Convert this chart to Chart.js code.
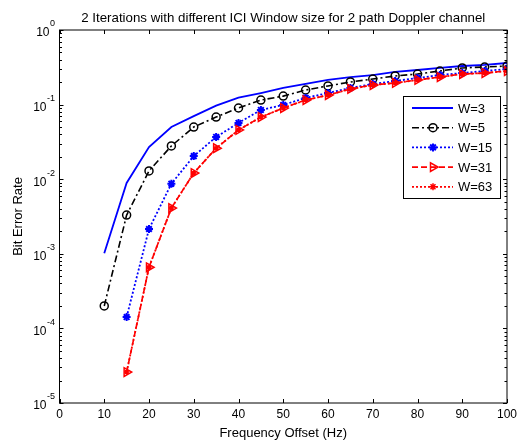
<!DOCTYPE html>
<html>
<head>
<meta charset="utf-8">
<script src="https://cdn.jsdelivr.net/npm/chart.js@4/dist/chart.umd.min.js"></script>
<style>
  body { margin: 0; background: #fff; }
</style>
</head>
<body>
<canvas id="myChart" width="517" height="440"></canvas>
<script>
// Fréquences (Hz) et BER
const freq = [10, 15, 20, 25, 30, 35, 40, 45, 50, 55, 60, 65, 70, 75, 80, 85, 90, 95, 100];
const berW3 = [1.02e-3, 8.9e-3, 0.027, 0.050, 0.070, 0.097, 0.124, 0.143, 0.167, 0.189, 0.214, 0.234, 0.249, 0.274, 0.291, 0.31, 0.329, 0.34, 0.361];
const berW5 = [2.0e-4, 3.3e-3, 0.0129, 0.0279, 0.050, 0.068, 0.090, 0.115, 0.130, 0.157, 0.178, 0.201, 0.22, 0.242, 0.257, 0.282, 0.31, 0.319, 0.329];
const berW15 = [null, 1.42e-4, 2.15e-3, 8.7e-3, 0.0204, 0.0368, 0.0567, 0.0847, 0.099, 0.123, 0.143, 0.167, 0.189, 0.207, 0.227, 0.249, 0.265, 0.282, 0.30];
const berW31 = [null, 2.6e-5, 6.6e-4, 4.1e-3, 0.0121, 0.026, 0.0457, 0.068, 0.090, 0.115, 0.134, 0.162, 0.183, 0.195, 0.214, 0.234, 0.257, 0.265, 0.282];
const berW63 = [null, 2.6e-5, 6.6e-4, 4.1e-3, 0.0121, 0.026, 0.0457, 0.068, 0.090, 0.115, 0.134, 0.162, 0.183, 0.195, 0.214, 0.234, 0.257, 0.265, 0.282];
const xTicks = [0, 10, 20, 30, 40, 50, 60, 70, 80, 90, 100];
const yDecades = [0, -1, -2, -3, -4, -5];

const FONT = "Liberation Sans, Arial, sans-serif";

function pts(ys) {
    return freq.map((f, i) => ({ x: f, y: ys[i] }));
}

// Cadre, graduations internes et textes façon MATLAB
const matlabAxes = {
    id: "matlabAxes",
    afterDraw(chart) {
        const ctx = chart.ctx;
        const a = chart.chartArea;
        const xs = chart.scales.x;
        const ys = chart.scales.y;
        ctx.save();
        ctx.strokeStyle = "#000";
        ctx.lineWidth = 1;
        ctx.strokeRect(a.left, a.top, a.right - a.left, a.bottom - a.top);

        ctx.beginPath();
        xTicks.forEach(t => {
            const px = Math.round(xs.getPixelForValue(t)) + 0.5;
            ctx.moveTo(px, a.bottom); ctx.lineTo(px, a.bottom - 4);
            ctx.moveTo(px, a.top); ctx.lineTo(px, a.top + 4);
        });
        yDecades.forEach(d => {
            for (let m = 1; m <= 9; m++) {
                const v = m * Math.pow(10, d);
                if (v > 1 || v < 1e-5) continue;
                const py = Math.round(ys.getPixelForValue(v)) + 0.5;
                const len = m === 1 ? 4 : 2.5;
                ctx.moveTo(a.left, py); ctx.lineTo(a.left + len, py);
                ctx.moveTo(a.right, py); ctx.lineTo(a.right - len, py);
            }
        });
        ctx.stroke();

        ctx.fillStyle = "#000";

        // étiquettes de l'axe x
        ctx.font = "12px " + FONT;
        ctx.textAlign = "center";
        ctx.textBaseline = "middle";
        xTicks.forEach(t => {
            ctx.fillText(String(t), xs.getPixelForValue(t), a.bottom + 12);
        });

        // étiquettes 10^n
        yDecades.forEach(d => {
            const py = ys.getPixelForValue(Math.pow(10, d));
            ctx.textAlign = "left";
            const exp = String(d);
            ctx.font = "9px " + FONT;
            const we = ctx.measureText(exp).width;
            ctx.font = "12px " + FONT;
            const wb = ctx.measureText("10").width;
            const x0 = a.left - 5 - we - wb;
            ctx.fillText("10", x0, py + 3);
            ctx.font = "9px " + FONT;
            ctx.fillText(exp, x0 + wb + 0.5, py - 6);
        });

        ctx.textAlign = "center";
        ctx.font = "13.3px " + FONT;
        ctx.fillText("2 Iterations with different ICI Window size for 2 path Doppler channel", (a.left + a.right) / 2, 18);
        ctx.font = "13px " + FONT;
        ctx.fillText("Frequency Offset (Hz)", (a.left + a.right) / 2, 433);
        ctx.translate(18, (a.top + a.bottom) / 2);
        ctx.rotate(-Math.PI / 2);
        ctx.fillText("Bit Error Rate", 0, 0);
        ctx.restore();

        drawLegend(chart);
    }
};

function drawMarker(ctx, style, x, y, r, rot) {
    ctx.beginPath();
    if (style === "circle") {
        ctx.arc(x, y, r, 0, Math.PI * 2);
    } else if (style === "star") {
        for (let k = 0; k < 4; k++) {
            const ang = k * Math.PI / 4;
            ctx.moveTo(x - r * Math.cos(ang), y - r * Math.sin(ang));
            ctx.lineTo(x + r * Math.cos(ang), y + r * Math.sin(ang));
        }
    } else if (style === "triangle") {
        const base = (rot || 0) * Math.PI / 180 - Math.PI / 2;
        for (let k = 0; k < 3; k++) {
            const ang = base + k * 2 * Math.PI / 3;
            const px = x + r * Math.cos(ang), py = y + r * Math.sin(ang);
            if (k === 0) ctx.moveTo(px, py); else ctx.lineTo(px, py);
        }
        ctx.closePath();
    }
    ctx.stroke();
}

function drawLegend(chart) {
    const ctx = chart.ctx;
    const bx = 403, by = 96, bw = 97, bh = 102;
    ctx.save();
    ctx.fillStyle = "#fff";
    ctx.fillRect(bx, by, bw, bh);
    ctx.strokeStyle = "#000";
    ctx.lineWidth = 1;
    ctx.strokeRect(bx + 0.5, by + 0.5, bw, bh);
    chart.data.datasets.forEach((ds, i) => {
        const y = by + 12 + i * 19.7;
        ctx.strokeStyle = ds.borderColor;
        ctx.lineWidth = ds.borderWidth;
        ctx.setLineDash(ds.borderDash || []);
        ctx.beginPath();
        ctx.moveTo(bx + 9, y); ctx.lineTo(bx + 50, y);
        ctx.stroke();
        ctx.setLineDash([]);
        if (ds.pointRadius > 0) {
            ctx.lineWidth = ds.pointBorderWidth;
            const r = ds.label === "W=63" ? 3.5 : ds.pointRadius;
            drawMarker(ctx, ds.pointStyle, bx + 30, y, r, ds.pointRotation);
        }
        ctx.fillStyle = "#000";
        ctx.font = "13px " + FONT;
        ctx.textAlign = "left";
        ctx.textBaseline = "middle";
        ctx.fillText(ds.label, bx + 55, y + 1);
    });
    ctx.restore();
}

const ctx = document.getElementById("myChart").getContext("2d");

new Chart(ctx, {
    type: "line",
    data: {
        datasets: [
            {
                label: "W=3", data: pts(berW3), order: 5,
                borderColor: "#0000FF", borderWidth: 1.8, borderDash: [],
                pointRadius: 0, pointStyle: "circle", pointBorderWidth: 1
            },
            {
                label: "W=5", data: pts(berW5), order: 4,
                borderColor: "#000000", borderWidth: 1.6, borderDash: [7, 3, 2, 3],
                pointStyle: "circle", pointRadius: 4, pointBorderWidth: 1.5,
                pointBorderColor: "#000", pointBackgroundColor: "rgba(0,0,0,0)"
            },
            {
                label: "W=15", data: pts(berW15), order: 3,
                borderColor: "#0000FF", borderWidth: 1.8, borderDash: [2, 2],
                pointStyle: "star", pointRadius: 4, pointBorderWidth: 2,
                pointBorderColor: "#0000FF", pointBackgroundColor: "#0000FF"
            },
            {
                label: "W=31", data: pts(berW31), order: 2,
                borderColor: "#FF0000", borderWidth: 1.6, borderDash: [6, 3],
                pointStyle: "triangle", pointRotation: 90, pointRadius: 5, pointBorderWidth: 1.5,
                pointBorderColor: "#FF0000", pointBackgroundColor: "rgba(0,0,0,0)"
            },
            {
                label: "W=63", data: pts(berW63), order: 1,
                borderColor: "#FF0000", borderWidth: 1.8, borderDash: [2, 2],
                pointStyle: "star", pointRadius: 2.5, pointBorderWidth: 1.5,
                pointBorderColor: "#FF0000", pointBackgroundColor: "#FF0000"
            }
        ]
    },
    options: {
        responsive: false,
        animation: false,
        devicePixelRatio: 1,
        spanGaps: false,
        layout: { padding: { top: 30, right: 10, left: 0, bottom: 0 } },
        elements: { line: { tension: 0, fill: false } },
        plugins: {
            legend: { display: false },
            title: { display: false },
            tooltip: { enabled: false }
        },
        scales: {
            x: {
                type: "linear",
                min: 0, max: 100,
                grid: { display: false, drawTicks: false },
                border: { display: false },
                afterFit: s => { s.height = 37; },
                ticks: { display: false }
            },
            y: {
                type: "logarithmic",
                min: 1e-5, max: 1,
                grid: { display: false, drawTicks: false },
                border: { display: false },
                afterFit: s => { s.width = 59.5; },
                ticks: { display: false }
            }
        }
    },
    plugins: [matlabAxes]
});
</script>
</body>
</html>
